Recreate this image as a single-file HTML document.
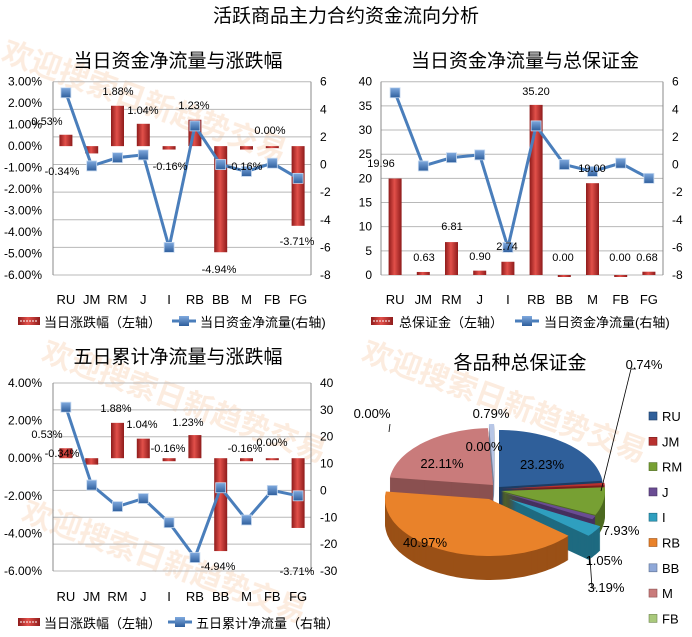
<!DOCTYPE html>
<html><head><meta charset="utf-8"><style>
body{margin:0;background:#fff}
svg{display:block;font-family:"Liberation Sans","Noto Sans CJK SC",sans-serif}
</style></head><body>
<svg id="s" xmlns="http://www.w3.org/2000/svg" width="692" height="637" viewBox="0 0 692 637">
<defs>
<linearGradient id="bar" x1="0" x2="1" y1="0" y2="0"><stop offset="0" stop-color="#8e1b1b"/><stop offset="0.45" stop-color="#e2504a"/><stop offset="1" stop-color="#8e1b1b"/></linearGradient>
<linearGradient id="mk" x1="0" x2="0" y1="0" y2="1"><stop offset="0" stop-color="#7fa9de"/><stop offset="1" stop-color="#2e5e9c"/></linearGradient>
</defs>
<g id="wm" fill="#f4b98e" opacity="0.28" font-size="30" font-weight="bold">
<text transform="translate(0,60) rotate(20)">欢迎搜索日新趋势交易</text>
<text transform="translate(40,360) rotate(20)">欢迎搜索日新趋势交易</text>
<text transform="translate(360,360) rotate(20)">欢迎搜索日新趋势交易</text>
<text transform="translate(20,520) rotate(20)">欢迎搜索日新趋势交易</text>
</g>
<text x="346" y="22" font-size="19" text-anchor="middle" fill="#000">活跃商品主力合约资金流向分析</text>
<text x="178" y="67" font-size="19" text-anchor="middle">当日资金净流量与涨跌幅</text>
<text x="525" y="67" font-size="19" text-anchor="middle">当日资金净流量与总保证金</text>
<text x="178" y="363" font-size="19" text-anchor="middle">五日累计净流量与涨跌幅</text>
<text x="520" y="369" font-size="19" text-anchor="middle">各品种总保证金</text>
</svg>
<script>
const S=document.getElementById('s'),NS='http://www.w3.org/2000/svg';
function el(t,a,txt){const e=document.createElementNS(NS,t);for(const k in a)e.setAttribute(k,a[k]);if(txt!==undefined)e.textContent=txt;S.appendChild(e);return e;}
const cats=['RU','JM','RM','J','I','RB','BB','M','FB','FG'];
function combo(c){
 const ly=v=>c.yT+(c.lmax-v)/(c.lmax-c.lmin)*(c.yB-c.yT);
 const ry=v=>c.yT+(c.rmax-v)/(c.rmax-c.rmin)*(c.yB-c.yT);
 const step=(c.x1-c.x0)/10;
 for(let v=c.gmax;v>=c.gmin-1e-9;v-=c.gstep){const y=c.gLeft?ly(v):ry(v);el('line',{x1:c.x0,x2:c.x1,y1:y,y2:y,stroke:'#b8b8b8','stroke-width':1});}
 el('line',{x1:c.x0,x2:c.x0,y1:c.yT,y2:c.yB,stroke:'#888'});
 el('line',{x1:c.x1,x2:c.x1,y1:c.yT,y2:c.yB,stroke:'#888'});
 for(let v=c.lmax;v>=c.lmin-1e-9;v-=c.lstep){el('text',{x:c.lx,y:ly(v)+4,'font-size':12,'text-anchor':'end'},c.lf(v));}
 for(let v=c.rmax;v>=c.rmin-1e-9;v-=c.rstep){el('text',{x:c.rx,y:ry(v)+4,'font-size':12},String(Math.round(v)));}
 const z=ly(0);
 c.bars.forEach((b,i)=>{const cx=c.x0+step*(i+.5),y=ly(b);el('rect',{x:cx-6.5,y:Math.min(y,z),width:13,height:Math.max(Math.abs(y-z),2),fill:'url(#bar)'});});
 el('polyline',{points:c.line.map((v,i)=>(c.x0+step*(i+.5))+','+ry(v)).join(' '),fill:'none',stroke:'#4a7ebb','stroke-width':3});
 c.line.forEach((v,i)=>{const cx=c.x0+step*(i+.5);el('rect',{x:cx-5,y:ry(v)-5,width:10,height:10,fill:'url(#mk)',stroke:'#c8daf0','stroke-width':0.8});});
 cats.forEach((t,i)=>el('text',{x:c.x0+step*(i+.5),y:c.catY,'font-size':13,'text-anchor':'middle'},t));
 c.dl.forEach(d=>el('text',{x:d[0],y:d[1],'font-size':11,'text-anchor':'middle'},d[2]));
}
const pct=v=>v.toFixed(2)+'%';
const chg=[0.53,-0.34,1.88,1.04,-0.16,1.23,-4.94,-0.16,0,-3.71];
const flow=[5.2,-0.1,0.5,0.7,-6,2.8,0,-0.5,0.1,-1];
combo({x0:53,x1:311,yT:81.7,yB:275,lmax:3,lmin:-6,lstep:1,lf:pct,rmax:6,rmin:-8,rstep:2,gmax:6,gmin:-8,gstep:2,lx:42,rx:320,bars:chg,line:flow,catY:304,
 dl:[[47,125,'0.53%'],[62,175,'-0.34%'],[118,95,'1.88%'],[143,114,'1.04%'],[170,170,'-0.16%'],[194,109,'1.23%'],[219,273,'-4.94%'],[245,170,'-0.16%'],[270,134,'0.00%'],[297,245,'-3.71%']]});
combo({x0:381,x1:663,yT:81.7,yB:275,lmax:40,lmin:0,lstep:5,lf:v=>String(v),rmax:6,rmin:-8,rstep:2,gLeft:true,gmax:40,gmin:0,gstep:5,lx:372,rx:672,
 bars:[19.96,0.63,6.81,0.9,2.74,35.2,0,19,0,0.68],line:flow,catY:304,
 dl:[[381,167,'19.96'],[424,261,'0.63'],[452,230,'6.81'],[480,260,'0.90'],[507,250,'2.74'],[536,95,'35.20'],[563,261,'0.00'],[592,172,'19.00'],[620,261,'0.00'],[647,261,'0.68']]});
combo({x0:53,x1:311,yT:383,yB:571,lmax:4,lmin:-6,lstep:2,lf:pct,rmax:40,rmin:-30,rstep:10,gmax:40,gmin:-30,gstep:10,lx:42,rx:320,bars:chg,
 line:[31,2,-6,-3,-12,-25,1,-11,0,-2],catY:601,
 dl:[[47,438,'0.53%'],[62,457,'-0.34%'],[116,412,'1.88%'],[142,428,'1.04%'],[168,452,'-0.16%'],[188,426,'1.23%'],[218,570,'-4.94%'],[245,452,'-0.16%'],[272,446,'0.00%'],[297,575,'-3.71%']]});
function legBar(x,y){el('rect',{x:x,y:y-5,width:22,height:8,fill:'url(#bar)'});el('line',{x1:x+2,x2:x+20,y1:y-1,y2:y-1,stroke:'#fff','stroke-dasharray':'2,1'});}
function legLine(x,y){el('line',{x1:x,x2:x+24,y1:y-1,y2:y-1,stroke:'#4a7ebb','stroke-width':3});el('rect',{x:x+7,y:y-6,width:10,height:10,fill:'url(#mk)'});}
legBar(18,322);el('text',{x:44,y:327,'font-size':13},'当日涨跌幅（左轴）');
legLine(172,322);el('text',{x:200,y:327,'font-size':13},'当日资金净流量(右轴)');
legBar(371,322);el('text',{x:399,y:327,'font-size':13},'总保证金（左轴）');
legLine(515,322);el('text',{x:544,y:327,'font-size':13},'当日资金净流量(右轴)');
legBar(18,623);el('text',{x:44,y:628,'font-size':13},'当日涨跌幅（左轴）');
legLine(168,623);el('text',{x:196,y:628,'font-size':13},'五日累计净流量（右轴）');
const pv=[23.23,0.74,7.93,1.05,3.19,40.97,0.001,22.11,0.001,0.79];
const col=['#2f5f9a','#b8312f','#77a033','#6a4c93','#2f9fbf','#e9822a','#8fa8d8','#c97b7b','#a9c97b','#b7c6e6'];
const dk=['#1d3c63','#7a1f1d','#4d6a20','#45305f','#1e6a80','#9a5016','#5f7090','#8a5050','#6f8550','#7a849a'];
const off=[[2,-2],[4,0],[4,2],[4,3],[12,10],[-8,10],[0,0],[-4,-4],[0,0],[-3,-8]];
const cx=497,cy=489,rx=104,ry=57,D=24;
let a=-Math.PI/2;const sl=[];
pv.forEach((v,i)=>{const b=a+v/100*2*Math.PI;sl.push([a,b]);a=b;});
function path(i,dy){const [s,e]=sl[i],ox=cx+off[i][0],oy=cy+off[i][1]+dy;let d='M'+ox+','+oy;const n=Math.max(2,Math.ceil((e-s)*30));for(let k=0;k<=n;k++){const t=s+(e-s)*k/n;d+=' L'+(ox+rx*Math.cos(t)).toFixed(1)+','+(oy+ry*Math.sin(t)).toFixed(1);}return d+'Z';}
const order=[7,9,0,1,2,3,4,5];
for(let dy=D;dy>0;dy-=1){order.forEach(i=>el('path',{d:path(i,dy),fill:dk[i]}));}
order.forEach(i=>el('path',{d:path(i,0),fill:col[i]}));
[[542,469,'23.23%'],[442,468,'22.11%'],[425,547,'40.97%'],[484,451,'0.00%'],[621,535,'7.93%'],[604,565,'1.05%'],[606,592,'3.19%'],[644,369,'0.74%'],[491,418,'0.79%'],[372,418,'0.00%']].forEach(d=>el('text',{x:d[0],y:d[1],'font-size':13,'text-anchor':'middle'},d[2]));
el('polyline',{points:'601,491 631,369 636,369',fill:'none',stroke:'#000','stroke-width':0.8});
el('polyline',{points:'389,432 390,424',fill:'none',stroke:'#000','stroke-width':0.8});
el('polyline',{points:'590,558 592,588 596,588',fill:'none',stroke:'#000','stroke-width':0.8});
const ln=['RU','JM','RM','J','I','RB','BB','M','FB'];
ln.forEach((t,i)=>{const y=421+i*25.3;el('rect',{x:649,y:y-9,width:8,height:8,fill:col[i],stroke:dk[i],'stroke-width':0.6});el('text',{x:662,y:y,'font-size':13},t);});
</script>
</body></html>
